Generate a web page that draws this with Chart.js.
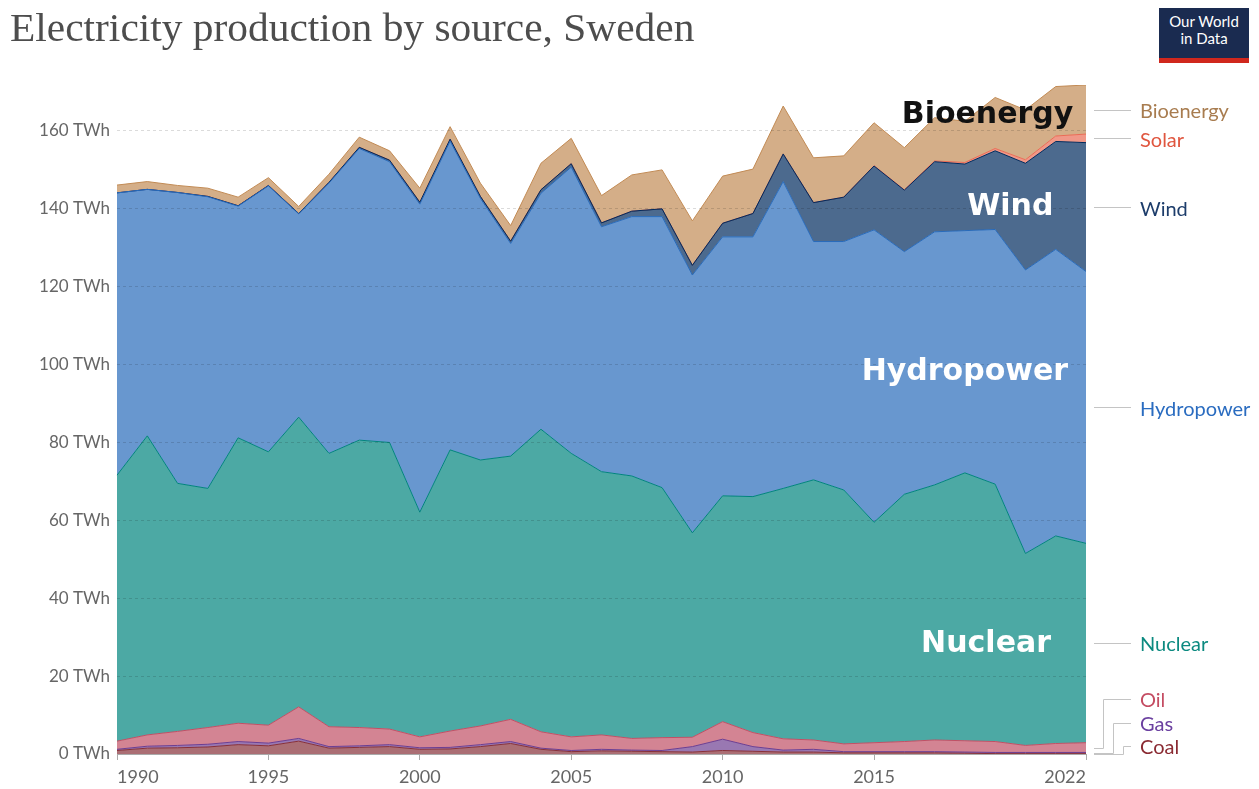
<!DOCTYPE html>
<html>
<head>
<meta charset="utf-8">
<title>Electricity production by source, Sweden</title>
<script src="https://cdn.jsdelivr.net/npm/chart.js@4.4.1/dist/chart.umd.min.js"></script>
<style>
  html, body { margin: 0; padding: 0; background: #fff; }
  #wrap { position: relative; width: 1259px; height: 789px; overflow: hidden; }
  #wrap canvas { position: absolute; left: 0; top: 0; }
  h1 {
    position: absolute; left: 10px; top: 8px; margin: 0;
    font: normal 39px/39px "Liberation Serif", serif; color: #4d4d4d; white-space: nowrap;
    transform: scaleX(1.062); transform-origin: 0 0;
  }
  .logo {
    position: absolute; left: 1159px; top: 8px; width: 90px; height: 45px;
    background: #1a2b50; border-bottom: 5px solid #d0271d; color: #fff;
    font: 15px/17px Lato, sans-serif; text-align: center; padding-top: 5px; box-sizing: content-box;
  }
</style>
</head>
<body>
<div id="wrap">
  <canvas id="chart" width="1259" height="789"></canvas>
  <h1>Electricity production by source, Sweden</h1>
  <div class="logo">Our World<br>in Data</div>
</div>
<script>
// TWh per year (bottom layer first)
const years = [1990, 1991, 1992, 1993, 1994, 1995, 1996, 1997, 1998, 1999, 2000, 2001, 2002,
  2003, 2004, 2005, 2006, 2007, 2008, 2009, 2010, 2011, 2012, 2013, 2014, 2015, 2016,
  2017, 2018, 2019, 2020, 2021, 2022];
const xTickYears = [1990, 1995, 2000, 2005, 2010, 2015, 2022];
const yTicks = [0, 20, 40, 60, 80, 100, 120, 140, 160];

const coal = [0.9, 1.5, 1.6, 1.8, 2.4, 2.1, 3.3, 1.5, 1.7, 1.9, 1.2, 1.3, 1.9, 2.7, 1.2, 0.6,
  0.8, 0.7, 0.6, 0.5, 0.9, 0.7, 0.5, 0.5, 0.3, 0.3, 0.3, 0.3, 0.2, 0.1, 0.1, 0.1, 0.1];
const gas = [0.3, 0.5, 0.6, 0.7, 0.8, 0.7, 0.7, 0.4, 0.4, 0.5, 0.4, 0.4, 0.5, 0.5, 0.3, 0.3,
  0.4, 0.3, 0.3, 1.4, 2.9, 1.2, 0.5, 0.7, 0.3, 0.3, 0.3, 0.3, 0.3, 0.3, 0.3, 0.3, 0.3];
const oil = [2.1, 2.9, 3.6, 4.3, 4.7, 4.6, 8.1, 5.1, 4.7, 4.0, 2.8, 4.2, 4.8, 5.7, 4.2, 3.5,
  3.7, 3.0, 3.3, 2.4, 4.5, 3.6, 2.9, 2.4, 2.0, 2.3, 2.6, 3.0, 2.9, 2.8, 1.8, 2.3, 2.5];
const nuclear = [68.3, 76.8, 63.7, 61.4, 73.3, 70.2, 74.4, 70.2, 73.8, 73.6, 57.7, 72.2, 68.3,
  67.6, 77.7, 72.8, 67.6, 67.4, 64.2, 52.5, 58.0, 60.6, 64.3, 66.8, 65.2, 56.6, 63.5, 65.5,
  68.8, 66.1, 49.3, 53.3, 51.2];
const hydro = [72.5, 63.3, 74.7, 74.9, 59.5, 68.3, 52.2, 69.4, 74.9, 72.1, 79.1, 79.3, 67.2,
  54.6, 60.6, 73.5, 62.9, 66.6, 69.6, 66.2, 66.5, 66.7, 78.8, 61.2, 63.8, 75.1, 62.3, 65.0,
  62.2, 65.4, 72.8, 73.6, 69.8];
const wind = [0, 0, 0, 0.1, 0.1, 0.1, 0.1, 0.2, 0.3, 0.4, 0.5, 0.5, 0.5, 0.6, 0.9, 0.9, 1.0,
  1.4, 2.0, 2.5, 3.5, 6.0, 7.1, 10.0, 11.4, 16.4, 15.8, 18.0, 17.1, 20.2, 27.4, 27.7, 33.1];
const solar = [0, 0, 0, 0, 0, 0, 0, 0, 0, 0, 0, 0, 0, 0, 0, 0, 0, 0, 0, 0, 0, 0, 0, 0, 0,
  0.1, 0.1, 0.2, 0.4, 0.6, 0.9, 1.4, 2.2];
const bioenergy = [2.0, 2.0, 1.8, 2.1, 2.2, 2.0, 1.8, 2.1, 2.6, 2.4, 3.6, 3.2, 3.4, 4.0, 6.8,
  6.5, 7.0, 9.3, 10.0, 11.4, 12.1, 11.4, 12.3, 11.5, 10.6, 11.0, 10.8, 11.1, 10.6, 13.1, 12.8,
  12.7, 12.6];

const series = [
  { label: "Coal", data: coal, color: "#883039", text: "#8a2a32" },
  { label: "Gas", data: gas, color: "#6d3e91", text: "#6b40a0" },
  { label: "Oil", data: oil, color: "#c15065", text: "#c44c62" },
  { label: "Nuclear", data: nuclear, color: "#00847e", text: "#0c8a80" },
  { label: "Hydropower", data: hydro, color: "#286bbb", text: "#2a6cc0" },
  { label: "Wind", data: wind, color: "#002b5e", text: "#1d3d6b" },
  { label: "Solar", data: solar, color: "#ea6c55", text: "#e0563f" },
  { label: "Bioenergy", data: bioenergy, color: "#c28b55", text: "#a87c4f" },
];

// big labels painted inside the areas: [text, year, TWh, colour]
const inlineLabels = [
  ["Bioenergy", 2018.75, 164.1, "#111"],
  ["Wind", 2019.5, 140.4, "#fff"],
  ["Hydropower", 2018.0, 98.1, "#fff"],
  ["Nuclear", 2018.7, 28.2, "#fff"],
];

const rgba = (hex, a) => {
  const n = parseInt(hex.slice(1), 16);
  return `rgba(${n >> 16},${(n >> 8) & 255},${n & 255},${a})`;
};
const totals = years.map((_, i) => series.reduce((s, d) => s + d.data[i], 0));
const yMax = Math.max(...totals);
const FONT = "Lato, sans-serif";

const labelPlugin = {
  id: "owidLabels",
  afterDraw(chart) {
    const { ctx, chartArea: ca, scales: { x, y } } = chart;
    const xAt = (yr) => x.getPixelForValue(yr - years[0]);
    ctx.save();

    // x axis labels: first one left-aligned, last one right-aligned
    ctx.font = `18px ${FONT}`;
    ctx.fillStyle = "#666";
    ctx.textBaseline = "middle";
    xTickYears.forEach((yr, i) => {
      ctx.textAlign = i === 0 ? "left" : i === xTickYears.length - 1 ? "right" : "center";
      ctx.fillText(String(yr), xAt(yr), ca.bottom + 23);
    });

    // inline area names
    ctx.font = `bold 30px "DejaVu Sans", sans-serif`;
    ctx.textAlign = "center";
    inlineLabels.forEach(([t, yr, v, c]) => {
      ctx.fillStyle = c;
      ctx.fillText(t, xAt(yr), y.getPixelForValue(v));
    });

    // right-hand legend, pushed up where labels would collide
    const last = years.length - 1;
    let base = 0, limit = ca.bottom - 8, moved = 0;
    const x0 = ca.right + 8, x1 = ca.right + 45, tx = ca.right + 54;
    ctx.font = `20px ${FONT}`;
    ctx.textAlign = "left";
    ctx.strokeStyle = "#c4c4c4";
    ctx.lineWidth = 1;
    series.forEach((s) => {
      const v = s.data[last];
      const mid = y.getPixelForValue(base + v / 2);
      base += v;
      const ly = Math.min(mid, limit);
      limit = ly - 23.5;
      ctx.beginPath();
      if (ly < mid - 0.5) {
        const xe = ca.right + 37 - 10 * moved++;
        ctx.moveTo(x0, Math.round(mid) + 0.5);
        ctx.lineTo(Math.round(xe) + 0.5, Math.round(mid) + 0.5);
        ctx.lineTo(Math.round(xe) + 0.5, Math.round(ly) + 0.5);
        ctx.lineTo(x1, Math.round(ly) + 0.5);
      } else {
        ctx.moveTo(x0, Math.round(ly) + 0.5);
        ctx.lineTo(x1, Math.round(ly) + 0.5);
      }
      ctx.stroke();
      ctx.fillStyle = s.text;
      ctx.fillText(s.label, tx, ly + 2);
    });
    ctx.restore();
  },
};

new Chart(document.getElementById("chart"), {
  type: "line",
  data: {
    labels: years,
    datasets: series.map((s, i) => ({
      label: s.label,
      data: s.data,
      fill: i === 0 ? "origin" : "-1",
      backgroundColor: rgba(s.color, 0.7),
      borderColor: s.color,
      borderWidth: 1,
      pointRadius: 0,
      tension: 0,
    })),
  },
  options: {
    responsive: false,
    animation: false,
    events: [],
    layout: { padding: { left: 0, right: 173, top: 85, bottom: 0 } },
    plugins: { legend: { display: false }, tooltip: { enabled: false } },
    scales: {
      x: {
        offset: false,
        afterFit: (s) => { s.height = 35; },
        ticks: { display: false },
        grid: {
          drawOnChartArea: false,
          tickLength: 6,
          tickColor: (c) => (xTickYears.includes(years[c.index]) ? "#aaa" : "transparent"),
        },
        border: { display: true, color: "#aaa" },
      },
      y: {
        stacked: true,
        min: 0,
        max: yMax,
        afterFit: (s) => { s.width = 117; },
        afterBuildTicks: (s) => { s.ticks = yTicks.map((v) => ({ value: v })); },
        ticks: {
          padding: 7,
          color: "#666",
          font: { family: FONT, size: 17 },
          callback: (v) => `${v} TWh`,
        },
        grid: {
          z: 1,
          drawTicks: false,
          color: (c) => (c.tick && c.tick.value === 0 ? "transparent" : "rgba(0,0,0,0.14)"),
        },
        border: { display: false, dash: [3, 3] },
      },
    },
  },
  plugins: [labelPlugin],
});
</script>
</body>
</html>
